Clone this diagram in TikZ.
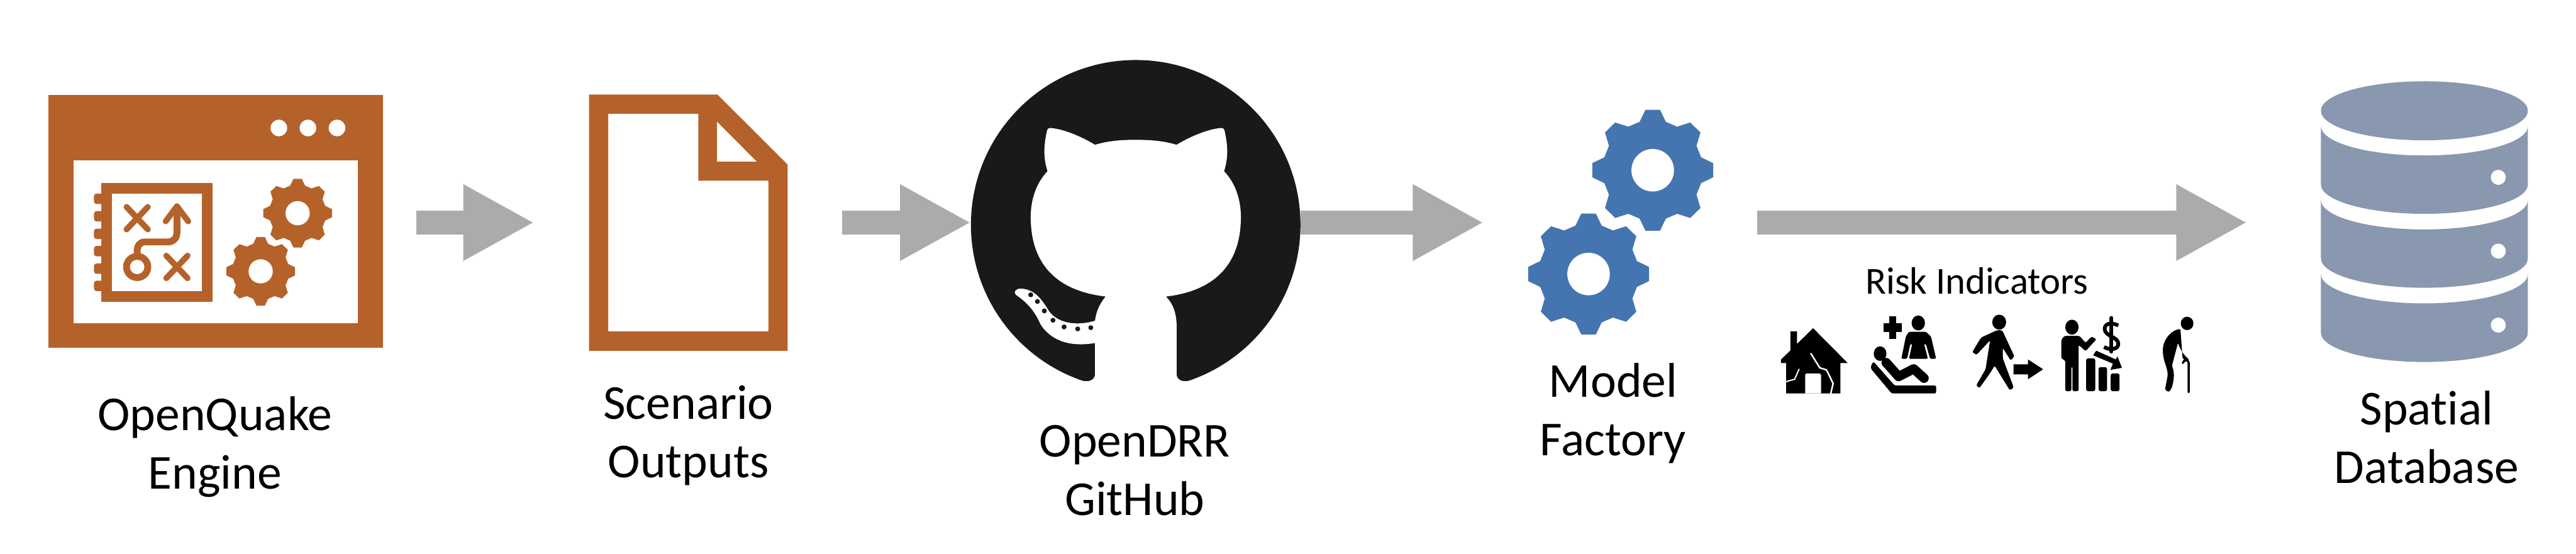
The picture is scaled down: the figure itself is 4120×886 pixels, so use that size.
\documentclass[tikz,border=0pt]{standalone}
\usepackage{fontspec}
\setmainfont[Ligatures=NoCommon]{Carlito}
\usetikzlibrary{arrows.meta}
\definecolor{oqorange}{HTML}{B5622A}
\definecolor{gearblue}{HTML}{4475B1}
\definecolor{dbslate}{HTML}{8997AF}
\definecolor{arrowgray}{HTML}{ADABA9}
\definecolor{ghblack}{HTML}{1A1919}
\newcommand{\mygear}[4]{%
  \begin{scope}[shift={(#1,#2)},scale=#3/290]
    \fill[#4] (35,-290)--(63,-232)--(117,-209)--(180,-229)--(229,-181)--(210,-117)--(232,-62)--(290,-34)--(290,34)--(232,62)--(210,117)--(229,181)--(180,229)--(117,209)--(63,232)--(35,290)--(-35,290)--(-63,232)--(-117,209)--(-180,229)--(-229,181)--(-210,117)--(-232,62)--(-290,34)--(-290,-34)--(-232,-62)--(-210,-117)--(-229,-181)--(-180,-229)--(-117,-209)--(-63,-232)--(-35,-290)--cycle;
    \fill[white] (0,0) circle[radius=102];
  \end{scope}}
\newcommand{\dbband}[2]{%
  \fill[dbslate] (3712,#1) .. controls (3712,{#1+26}) and (3786,{#1+47}) .. (3877.5,{#1+47}) .. controls (3969,{#1+47}) and (4043,{#1+26}) .. (4043,#1) -- (4043,#2) .. controls (4043,{#2+26}) and (3969,{#2+47}) .. (3877.5,{#2+47}) .. controls (3786,{#2+47}) and (3712,{#2+26}) .. (3712,#2) -- cycle;}
\tikzset{
  flow/.style={draw=arrowgray,line width=38pt,-{Triangle[length=113.5pt,width=114pt,fill=arrowgray]}},
  biglabel/.style={font=\fontsize{78}{93.5}\selectfont,align=center,text=black,inner sep=0pt,anchor=base},
  anchorbox/.style={inner sep=0pt,outer sep=0pt,rectangle},
  ring/.style={fill=oqorange,rounded corners=4pt},
  iconline/.style={draw=oqorange,line cap=round,line join=round},
  pict/.style={fill=black,rounded corners=2.5pt},
  zoomscope/.style={shift={(2800,400)},xscale=0.4847,yscale=0.3333}
}
\begin{document}
\begin{tikzpicture}[x=1pt,y=-1pt]
\useasboundingbox (0,0) rectangle (4120,886);
\fill[white] (0,0) rectangle (4120,886);

% --- OpenQuake window
\node[anchorbox,fill=oqorange,minimum width=535.4pt,minimum height=403.7pt] (window) at (345,354.2) {};
\fill[white] (117.3,256.7) rectangle (572.6,517.3);
\foreach \xx in {446,492.5,539} \fill[white] (\xx,204.7) circle[radius=13.3];
\fill[oqorange] (161.8,293) rectangle (340,482.7);
\fill[white] (179.3,310) rectangle (323,466);
\foreach \yy in {318,346,374,401.7,429.7,457.3} \fill[ring] (150.3,\yy-8.3) rectangle (166,\yy+8.3);
\fill[oqorange] (161.8,293) rectangle (179.3,482.7);
\foreach \cx/\cy in {219.4/349,283/427}{
  \draw[iconline,line width=9.5pt] (\cx-17,\cy-18) -- (\cx+17,\cy+18);
  \draw[iconline,line width=9.5pt] (\cx+17,\cy-18) -- (\cx-17,\cy+18);
}
\draw[iconline,line width=11pt,line cap=butt] (283,330) -- (283,372) .. controls (283,382) and (276,387) .. (268,387) -- (232,387) .. controls (224,387) and (219.4,393) .. (219.4,400) -- (219.4,410);
\draw[iconline,line width=9.5pt] (265,354) -- (283,330) -- (301,354);
\fill[oqorange] (219.4,427) ellipse[x radius=22.5,y radius=22.5];
\fill[white] (219.4,427) ellipse[x radius=11.5,y radius=11.5];
\mygear{476}{341}{55}{oqorange}
\mygear{416.9}{434}{55}{oqorange}
\node[biglabel] (oqlabel) at (344,781.7) {OpenQuake\\Engine};

% --- Scenario document
\node[anchorbox,minimum width=317.7pt,minimum height=410pt] (doc) at (1100.85,356) {};
\fill[oqorange,even odd rule] (942,151.2) -- (1147.4,151.2) -- (1259.7,263.2) -- (1259.7,561.2) -- (942,561.2) -- cycle
  (972.7,182) -- (1116.8,182) -- (1116.8,289) -- (1229,289) -- (1229,530) -- (972.7,530) -- cycle
  (1146.8,194.5) -- (1210.6,258.7) -- (1146.8,258.7) -- cycle;
\node[biglabel] (doclabel) at (1101,764) {Scenario\\Outputs};

% --- GitHub
\node[circle,fill=ghblack,inner sep=0pt,outer sep=0pt,minimum size=527pt] (gh) at (1816.4,359.5) {};
\begin{scope}[shift={(1520,90)},scale=0.3954]
  \fill[white] (585,358) .. controls (640,342) and (690,338) .. (750,338) .. controls (810,338) and (860,342) .. (915,358)
    .. controls (970,325) and (1040,295) .. (1095,290) .. controls (1105,290) and (1108,295) .. (1110,305)
    .. controls (1122,360) and (1125,410) .. (1107,465) .. controls (1150,510) and (1175,575) .. (1175,650)
    .. controls (1175,850) and (1060,950) .. (872,972) .. controls (900,1000) and (915,1040) .. (915,1090)
    -- (915,1285) .. controls (915,1310) and (940,1320) .. (970,1312) -- (970,1365) -- (530,1365) -- (530,1312)
    .. controls (560,1320) and (585,1310) .. (585,1285) -- (585,1160)
    .. controls (470,1180) and (400,1140) .. (365,1085) .. controls (340,1030) and (315,1000) .. (265,965)
    .. controls (255,955) and (262,940) .. (285,940) .. controls (335,942) and (365,975) .. (395,1025)
    .. controls (425,1075) and (500,1095) .. (585,1070)
    .. controls (590,1030) and (605,1000) .. (628,972) .. controls (440,950) and (325,850) .. (325,650)
    .. controls (325,575) and (350,510) .. (393,465) .. controls (375,410) and (378,360) .. (390,305)
    .. controls (392,295) and (395,290) .. (405,290) .. controls (460,295) and (530,325) .. (585,358) -- cycle;
  \foreach \px/\py in {325/965,352/992,380/1030,415/1068,460/1095,515/1103,568/1098}
    \fill[ghblack] (\px,\py) circle[radius=10];
\end{scope}
\node[biglabel] (ghlabel) at (1815,824) {OpenDRR\\GitHub};

% --- Model Factory gears
\node[anchorbox,minimum width=296pt,minimum height=360pt] (factory) at (2592,356) {};
\mygear{2643.3}{272.3}{96.7}{gearblue}
\mygear{2540.7}{438.3}{96.7}{gearblue}
\node[biglabel] (factorylabel) at (2580,728.3) {Model\\Factory};

% --- Database
\node[anchorbox,minimum width=331pt,minimum height=452pt] (db) at (3877.5,356) {};
\fill[dbslate] (3877.5,177.2) ellipse[x radius=165.5,y radius=47.2];
\dbband{201.7}{295}
\dbband{320}{413.3}
\dbband{438.3}{532}
\foreach \yy in {283.7,401.7,520} \fill[white] (3995.7,\yy) circle[radius=12];
\node[biglabel] (dblabel) at (3881,773) {Spat\kern0pt ial\\Database};

% --- Risk indicators
\node[font=\fontsize{61}{72}\selectfont,inner sep=0pt,anchor=base] (risklabel) at (3161.6,470.7) {Risk Indicators};
\begin{scope}[zoomscope]
  % damaged house
  \fill (206,375) -- (320,542) -- (296,542) -- (296,688) -- (117,688) -- (117,542) -- (100,542) -- (100,525) -- (131,482) -- (131,390) -- (153,390) -- (153,450) -- cycle;
  \fill[white] (180,688) -- (180,597) [rounded corners=1pt] -- (185,592) -- (227,592) -- (232,597) [sharp corners] -- (232,688) -- cycle;
  \draw[white,line width=2.5pt] (198,495) -- (228,565) -- (250,575) -- (272,640) -- (264,690);
  \draw[white,line width=2pt] (115,632) -- (145,620) -- (160,570);
  % nurse and patient
  \fill (457,318) rectangle (480,425);
  \fill (438,352) rectangle (498,393);
  \fill (553,350) ellipse[x radius=22,y radius=36];
  \fill[pict] (497,522) -- (512,415) -- (522,392) -- (578,392) -- (595,415) -- (612,522) -- (592,522) -- (578,450) -- (572,450) -- (585,522) -- (522,522) -- (533,450) -- (527,450) -- (516,522) -- cycle;
  \fill (427,497) ellipse[x radius=21,y radius=35];
  \fill[pict] (405,535) -- (475,650) -- (612,650) -- (612,688) -- (465,688) -- (397,570) -- (397,555) -- cycle;
  \draw[black,line width=15pt,line cap=round,line join=round] (447,540) -- (488,607) -- (538,570) -- (572,615);
  % person walking away
  \fill (820,346) ellipse[x radius=23,y radius=36];
  \fill[pict] (812,385) -- (830,385) -- (870,510) -- (858,530) -- (832,470) -- (832,520) -- (868,660) -- (855,673) -- (805,555) -- (790,590) -- (755,662) -- (744,650) -- (775,572) -- (790,433) -- (745,503) -- (731,490) -- (760,420) -- cycle;
  \fill (867,548) -- (915,548) -- (915,525) -- (965,572) -- (915,620) -- (915,597) -- (867,597) -- cycle;
  % economic loss
  \fill (1060,370) ellipse[x radius=22,y radius=36];
  \fill[pict] (1025,430) -- (1035,412) -- (1085,412) -- (1105,445) -- (1125,415) -- (1141,428) -- (1105,485) -- (1082,455) -- (1082,677) -- (1062,677) -- (1062,560) -- (1058,560) -- (1058,677) -- (1038,677) -- (1038,530) -- (1025,520) -- cycle;
  \fill[rounded corners=3pt] (1107,520) rectangle (1137,677);
  \fill[rounded corners=3pt] (1148,562) rectangle (1176,677);
  \fill[rounded corners=3pt] (1188,592) rectangle (1217,677);
  \draw[black,line width=5.5pt,line cap=round] (1190,325) -- (1190,488);
  \draw[black,line width=6pt] (1213,362) .. controls (1190,345) and (1168,352) .. (1168,378) .. controls (1168,415) and (1213,415) .. (1213,450) .. controls (1213,478) and (1185,482) .. (1166,465);
  \fill (1140,483) -- (1205,525) -- (1210,510) -- (1225,565) -- (1187,575) -- (1195,545) -- (1130,505) -- cycle;
  % elderly person
  \fill (1440,352) ellipse[x radius=21,y radius=32];
  \fill[pict] (1418,378) .. controls (1380,390) and (1360,440) .. (1360,485) .. controls (1362,540) and (1378,570) .. (1375,610) -- (1367,670) -- (1380,682) -- (1390,660) .. controls (1398,610) and (1398,590) .. (1390,555) -- (1410,445) .. controls (1418,480) and (1430,505) .. (1447,525) -- (1440,535) -- (1425,520) -- cycle;
  \draw[black,line width=3.5pt,line cap=round] (1445,682) -- (1445,540) .. controls (1445,525) and (1428,525) .. (1426,542);
\end{scope}

% --- connectors
\draw[flow,shorten <=53.3pt,shorten >=87.6pt] (window.east |- doc.west) -- (doc.west);
\draw[flow,shorten <=87.3pt,shorten >=0pt] (doc.east) -- (gh.west |- doc.east);
\draw[flow,shorten >=71pt] (gh.east |- doc.east) -- (factory.west);
\draw[flow,shorten <=70pt,shorten >=118pt] (factory.east) -- (db.west);
\end{tikzpicture}
\end{document}
